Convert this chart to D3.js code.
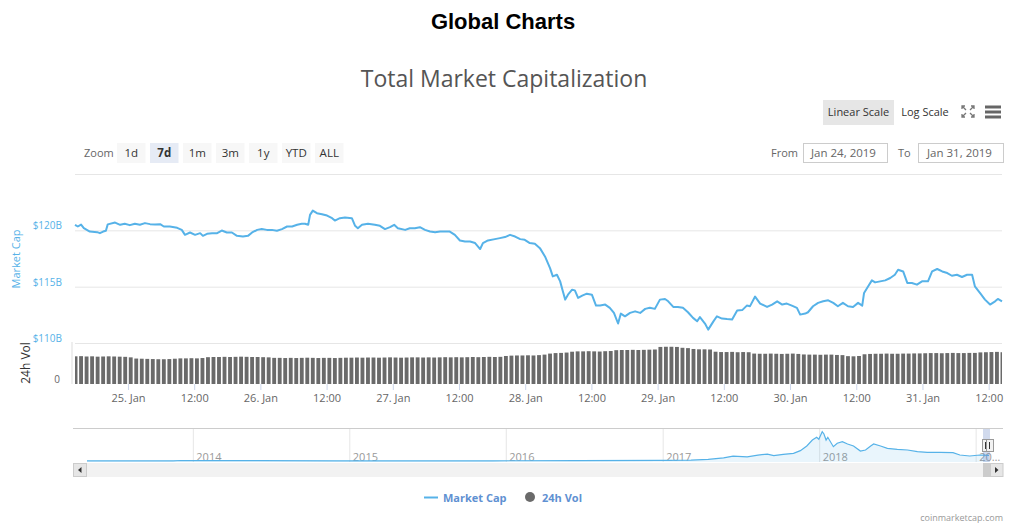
<!DOCTYPE html>
<html>
<head>
<meta charset="utf-8">
<script src="https://cdn.jsdelivr.net/npm/d3@7"></script>
<style>
  html, body { margin: 0; padding: 0; background: #fff; }
  svg { display: block; font-family: "Open Sans", sans-serif; }
</style>
</head>
<body>
<svg id="chart" width="1024" height="531"></svg>
<script>
// Market cap readings (time in Jan 2019 UTC, value in $B)
const capTimes = [
  "24 14:24","24 14:55","24 15:30","24 16:00","24 17:05","24 18:25","24 18:55","24 19:30","24 20:00","24 20:20","24 21:40","24 22:35","24 23:25",
  "25 00:20","25 01:15","25 02:10","25 03:05","25 04:00","25 04:55","25 05:50","25 06:30","25 07:35","25 08:55","25 09:45","25 10:20","25 11:15",
  "25 12:10","25 13:05","25 13:35","25 14:20","25 15:15","25 16:10","25 17:00","25 17:55","25 18:50","25 19:45","25 20:50","25 21:45","25 22:30","25 23:25",
  "26 00:15","26 01:10","26 02:05","26 03:00","26 03:55","26 04:50","26 05:45","26 06:40","26 07:30","26 08:05","26 08:40","26 09:00","26 09:30",
  "26 10:15","26 11:10","26 12:05","26 13:00","26 13:30","26 14:25","26 15:20","26 16:35","26 17:10","26 17:40","26 18:25","26 19:30","26 20:45",
  "26 21:40","26 22:35","26 23:30",
  "27 00:15","27 00:55","27 02:15","27 03:05","27 04:00","27 04:55","27 05:50","27 06:45","27 07:40","27 08:35","27 09:30","27 10:20","27 11:15",
  "27 12:10","27 13:05","27 14:00","27 14:55","27 15:50","27 16:20","27 17:15","27 18:30","27 19:25","27 20:20","27 21:15","27 22:10","27 23:05","27 23:55",
  "28 00:50","28 01:45","28 02:40","28 03:35","28 04:30","28 05:00","28 05:45","28 06:20","28 06:50","28 07:15","28 07:45","28 08:30","28 09:00",
  "28 09:35","28 10:20","28 11:10","28 12:05","28 12:50","28 13:35","28 14:30","28 15:20","28 16:05","28 16:50","28 17:20","28 18:05","28 19:00",
  "28 19:55","28 20:50","28 21:45","28 22:35","28 23:30",
  "29 00:25","29 01:20","29 01:55","29 02:50","29 03:40","29 04:35","29 05:30","29 06:25","29 07:10","29 07:40","29 08:35","29 09:10","29 10:05",
  "29 10:45","29 11:40","29 12:35","29 13:30","29 14:25","29 15:20","29 16:10","29 16:45","29 17:40","29 18:35","29 19:50","29 20:45","29 21:40",
  "29 22:35","29 23:25",
  "30 00:20","30 01:15","30 01:50","30 02:45","30 03:15","30 04:10","30 05:05","30 06:00","30 06:55","30 07:50","30 08:40","30 09:35","30 10:30",
  "30 11:25","30 12:20","30 13:05","30 13:25","30 14:10","30 14:50","30 15:25","30 16:20","30 17:15","30 18:10","30 19:00","30 19:35","30 20:30",
  "30 21:15","30 22:05","30 23:00","30 23:55",
  "31 01:00","31 01:45","31 02:40","31 03:35","31 04:30","31 05:20","31 06:15","31 07:10","31 08:05","31 09:00","31 09:30","31 10:25","31 11:20",
  "31 12:15","31 13:10","31 13:40","31 14:25"
];
const capValues = [
  120.49,120.34,120.51,120.19,119.89,119.84,119.75,119.89,119.96,120.53,120.69,120.49,120.58,
  120.46,120.58,120.49,120.64,120.55,120.51,120.55,120.34,120.34,120.22,120.04,119.60,119.81,
  119.60,119.75,119.51,119.69,119.75,119.75,119.98,119.81,119.81,119.51,119.45,119.51,119.81,120.04,
  120.11,120.04,120.04,119.96,120.11,120.34,120.34,120.49,120.58,120.58,120.49,121.37,121.75,
  121.52,121.43,121.31,121.08,120.87,121.08,121.13,121.08,120.40,120.19,120.49,120.58,120.49,
  120.40,120.11,120.28,
  120.49,120.19,120.04,120.19,120.19,120.28,120.04,119.89,119.84,119.89,119.89,119.89,119.60,
  119.10,119.01,119.01,118.87,118.34,118.87,119.10,119.22,119.31,119.40,119.60,119.45,119.22,119.16,
  118.87,118.81,118.42,117.68,116.65,115.91,116.06,115.47,114.58,113.85,114.29,114.73,114.67,
  114.00,114.20,114.38,114.29,113.32,113.32,113.41,113.12,112.67,111.73,112.61,112.37,112.67,
  112.81,112.67,113.03,113.12,113.03,
  113.85,113.91,113.70,113.20,113.20,113.12,112.73,112.23,111.93,112.30,111.73,111.19,111.90,
  112.37,112.17,112.12,112.08,112.88,112.92,113.32,113.27,114.12,113.50,113.20,113.41,113.70,
  113.41,113.50,
  113.32,113.12,112.52,112.61,112.73,113.26,113.56,113.70,113.79,113.56,113.26,113.56,113.26,
  113.20,113.56,113.32,114.44,115.03,115.56,115.38,115.47,115.56,115.77,116.06,116.50,116.35,
  115.33,115.33,115.18,115.47,
  115.47,116.35,116.57,116.35,116.21,115.97,116.06,115.86,116.06,116.06,115.03,114.44,113.85,
  113.41,113.70,113.91,113.70
];

// 24h volume, hourly bars from 24 Jan 14:30 UTC ($B)
const volStart = "2019-01-24 14:30";
const volValues = [
  16.2,16.3,16.1,16.2,16.0,16.1,16.2,16.1,16.0,15.9,15.6,
  14.9,14.8,14.7,14.6,14.5,14.5,14.6,14.8,
  15.0,15.0,15.1,15.0,15.2,
  15.7,15.8,15.8,15.9,15.8,15.9,16.0,15.9,15.8,15.8,15.7,15.6,
  15.3,15.3,15.2,15.3,15.2,15.3,15.4,15.3,15.2,15.3,15.3,15.2,15.3,15.4,
  15.4,15.5,15.4,15.5,15.5,15.4,15.5,15.6,15.5,15.4,15.5,15.6,15.6,15.5,15.6,15.5,15.6,15.7,15.6,15.7,15.6,15.7,15.8,15.7,15.8,15.9,15.8,15.9,
  16.4,16.6,16.7,16.7,16.8,16.7,16.9,17.2,
  17.8,18.1,18.2,18.4,
  18.9,19.1,19.1,19.2,19.1,19.0,19.2,19.3,
  19.8,19.9,19.9,20.0,19.9,20.0,20.1,20.2,
  21.7,21.8,21.8,21.7,
  21.2,21.0,
  20.5,20.3,20.3,20.2,
  18.9,18.7,18.7,18.8,18.6,18.7,18.6,
  17.8,17.7,17.7,17.8,17.7,17.6,17.7,17.8,17.6,
  17.3,17.2,17.2,17.1,17.2,17.2,17.0,16.9,
  16.3,16.2,16.4,
  17.4,17.6,17.7,17.7,17.8,17.7,17.7,17.8,17.8,17.9,17.9,
  18.0,18.1,18.1,18.0,18.1,18.2,18.1,18.1,18.2,18.2,
  18.5,18.6,18.7,18.8,18.6
];

// Navigator: whole history of market cap ($B)
const navDates = [
  "2013-04-28","2013-10-01","2013-11-15","2013-12-04","2014-01-10","2014-03-01","2014-06-01","2014-12-01",
  "2015-06-01","2015-12-01","2016-06-15","2016-12-31","2017-03-07","2017-04-16","2017-05-22","2017-06-13",
  "2017-07-16","2017-08-10","2017-09-01","2017-09-16","2017-10-08","2017-11-01","2017-11-17","2017-12-02",
  "2017-12-15","2017-12-25","2017-12-30","2018-01-07","2018-01-11","2018-01-16","2018-01-20","2018-02-02",
  "2018-02-11","2018-02-23","2018-03-07","2018-03-21","2018-04-06","2018-04-18","2018-04-30","2018-05-07",
  "2018-05-23","2018-06-08","2018-07-01","2018-07-25","2018-08-17","2018-09-09","2018-10-09","2018-11-08",
  "2018-11-24","2018-12-17","2019-01-10","2019-01-31"
];
const navValues = [
  1.5,2,6,14,11,9,8,5,
  4,6,11,17,25,45,90,140,
  118,168,196,150,190,218,292,425,
  594,671,614,830,764,594,671,405,
  501,546,481,425,283,311,425,481,
  425,359,331,311,263,246,246,235,
  170,141,170,160
];

const priceTicks = [110, 115, 120, 125];
const priceLabels = [110, 115, 120];
const zoomButtons = ["1d", "7d", "1m", "3m", "1y", "YTD", "ALL"];
const fromDate = "Jan 24, 2019";
const toDate = "Jan 31, 2019";

const blue = "#56b2e8";
const parseT = d3.utcParse("%Y-%m-%d %H:%M");
const capData = capTimes.map((t, i) => ({ date: parseT("2019-01-" + t), value: capValues[i] }));
const t0 = parseT(volStart);
const volData = volValues.map((v, i) => ({ date: d3.utcHour.offset(t0, i), value: v }));
const navData = navDates.map((d, i) => ({ date: d3.utcParse("%Y-%m-%d")(d), value: navValues[i] }));

const svg = d3.select("#chart");

// ---- titles
svg.append("text")
  .attr("x", 503).attr("y", 29).attr("text-anchor", "middle")
  .style("font-family", "'Liberation Sans', Arial, sans-serif")
  .style("font-weight", "bold").style("font-size", "22px").style("fill", "#000")
  .text("Global Charts");

svg.append("text")
  .attr("x", 504).attr("y", 87).attr("text-anchor", "middle")
  .style("font-size", "23px").style("fill", "#555")
  .text("Total Market Capitalization");

// ---- scale buttons (top right)
svg.append("rect").attr("x", 823).attr("y", 100).attr("width", 71).attr("height", 25).attr("fill", "#e6e6e6");
svg.append("text").attr("x", 858.5).attr("y", 116).attr("text-anchor", "middle")
  .style("font-size", "11px").style("fill", "#333").text("Linear Scale");
svg.append("text").attr("x", 925).attr("y", 116).attr("text-anchor", "middle")
  .style("font-size", "11px").style("fill", "#333").text("Log Scale");

// fullscreen icon
const fs = svg.append("g").attr("fill", "none").attr("stroke", "#777").attr("stroke-width", 1.3);
fs.append("path").attr("d", "M962,109 V106 H965 M962,106 L966,110");
fs.append("path").attr("d", "M971,106 H974 V109 M974,106 L970,110");
fs.append("path").attr("d", "M962,114 V117 H965 M962,117 L966,113");
fs.append("path").attr("d", "M971,117 H974 V114 M974,117 L970,113");

// menu icon
[107, 112, 117].forEach(yy => {
  svg.append("line").attr("x1", 985).attr("x2", 1001).attr("y1", yy).attr("y2", yy)
    .attr("stroke", "#666").attr("stroke-width", 3);
});

// ---- range selector
svg.append("text").attr("x", 84).attr("y", 156.5)
  .style("font-size", "11px").style("fill", "#666").text("Zoom");

zoomButtons.forEach((lab, i) => {
  const bx = 117 + i * 33;
  svg.append("rect").attr("x", bx).attr("y", 143).attr("width", 28.5).attr("height", 20)
    .attr("fill", lab === "7d" ? "#e6ebf5" : "#f7f7f7");
  svg.append("text").attr("x", bx + 14.25).attr("y", 156.5).attr("text-anchor", "middle")
    .style("font-size", "11.5px").style("fill", "#333")
    .style("font-weight", lab === "7d" ? "bold" : "normal").text(lab);
});

svg.append("text").attr("x", 771).attr("y", 156.5)
  .style("font-size", "11px").style("fill", "#666").text("From");
svg.append("rect").attr("x", 803.5).attr("y", 143.5).attr("width", 84).attr("height", 19)
  .attr("fill", "#fff").attr("stroke", "#ccc");
svg.append("text").attr("x", 811).attr("y", 156.5)
  .style("font-size", "11.5px").style("fill", "#666").text(fromDate);
svg.append("text").attr("x", 898).attr("y", 156.5)
  .style("font-size", "11px").style("fill", "#666").text("To");
svg.append("rect").attr("x", 918.5).attr("y", 143.5).attr("width", 85).attr("height", 19)
  .attr("fill", "#fff").attr("stroke", "#ccc");
svg.append("text").attr("x", 927).attr("y", 156.5)
  .style("font-size", "11.5px").style("fill", "#666").text(toDate);

// ---- scales
const x = d3.scaleUtc()
  .domain(d3.extent(capData, d => d.date))
  .range([75, 1002]);

const y = d3.scaleLinear().domain([110, 125]).range([343, 174]);
const yVol = d3.scaleLinear().domain([0, 24]).range([384, 343]);

// grid lines of the price panel
svg.append("g")
  .attr("transform", "translate(75,0)")
  .call(d3.axisRight(y).tickValues(priceTicks).tickSize(927).tickFormat(""))
  .call(g => g.select(".domain").remove())
  .call(g => g.selectAll("line").attr("stroke", "#e6e6e6"));

// price labels
svg.append("g")
  .attr("transform", "translate(62,0)")
  .call(d3.axisLeft(y).tickValues(priceLabels).tickSize(0).tickPadding(0).tickFormat(d => "$" + d + "B"))
  .call(g => g.select(".domain").remove())
  .call(g => g.selectAll("text")
    .attr("dy", "-1.5").attr("fill", blue)
    .style("font-size", "10px").style("font-family", "'Open Sans', sans-serif"));

svg.append("text")
  .attr("transform", "translate(19.5,259) rotate(-90)")
  .attr("text-anchor", "middle")
  .style("font-size", "11px").style("fill", blue).text("Market Cap");

// ---- volume panel
svg.append("line").attr("x1", 72).attr("x2", 72).attr("y1", 342).attr("y2", 384)
  .attr("stroke", "#ddd");

svg.append("defs").append("clipPath").attr("id", "volclip")
  .append("rect").attr("x", 75).attr("y", 340).attr("width", 927).attr("height", 50);

const barStep = x(d3.utcHour.offset(t0, 1)) - x(t0);
svg.append("g").attr("clip-path", "url(#volclip)")
  .selectAll("rect")
  .data(volData)
  .join("rect")
  .attr("x", d => x(d.date) - barStep * 0.35)
  .attr("width", barStep * 0.7)
  .attr("y", d => yVol(d.value))
  .attr("height", d => yVol(0) - yVol(d.value))
  .attr("fill", "#6a6a6a");

svg.append("text").attr("x", 60).attr("y", 383).attr("text-anchor", "end")
  .style("font-size", "10px").style("fill", "#666").text("0");

svg.append("text")
  .attr("transform", "translate(29.5,363) rotate(-90)")
  .attr("text-anchor", "middle")
  .style("font-size", "12px").style("fill", "#333").text("24h Vol");

// ---- price line
svg.append("path")
  .datum(capData)
  .attr("fill", "none")
  .attr("stroke", blue)
  .attr("stroke-width", 2)
  .attr("stroke-linejoin", "round")
  .attr("d", d3.line().x(d => x(d.date)).y(d => y(d.value)));

// ---- time axis
const fmtDay = d3.utcFormat("%-d. %b");
const fmtHour = d3.utcFormat("%H:%M");
svg.append("g")
  .attr("transform", "translate(0,384)")
  .call(d3.axisBottom(x)
    .tickValues(d3.utcHour.every(12).range(x.domain()[0], x.domain()[1]))
    .tickSize(6).tickPadding(4)
    .tickFormat(d => d.getUTCHours() === 0 ? fmtDay(d) : fmtHour(d)))
  .call(g => g.select(".domain").remove())
  .call(g => g.selectAll("line").attr("stroke", "#ccd6eb"))
  .call(g => g.selectAll("text").attr("fill", "#666")
    .style("font-size", "11px").style("font-family", "'Open Sans', sans-serif"));

// ---- navigator
const nx = d3.scaleUtc()
  .domain([navData[0].date, navData[navData.length - 1].date])
  .range([87, 989]);
const ny = d3.scaleLinear().domain([0, 934]).range([461, 428]);

svg.append("line").attr("x1", 73).attr("x2", 1003).attr("y1", 428.5).attr("y2", 428.5)
  .attr("stroke", "#ccc");

const years = d3.utcYear.range(d3.utcYear.ceil(nx.domain()[0]), nx.domain()[1]);
svg.append("g").selectAll("line").data(years).join("line")
  .attr("x1", d => nx(d)).attr("x2", d => nx(d))
  .attr("y1", 429).attr("y2", 462)
  .attr("stroke", "#e6e6e6");
svg.append("g").selectAll("text").data(years).join("text")
  .attr("x", d => nx(d) + 3).attr("y", 460.5)
  .style("font-size", "11px").style("fill", "#999")
  .text(d => d.getUTCFullYear() === 2019 ? "20…" : d.getUTCFullYear());

svg.append("path").datum(navData)
  .attr("fill", "rgba(86,178,232,0.13)")
  .attr("d", d3.area().x(d => nx(d.date)).y0(462).y1(d => ny(d.value)));
svg.append("path").datum(navData)
  .attr("fill", "none").attr("stroke", blue).attr("stroke-width", 1.2)
  .attr("d", d3.line().x(d => nx(d.date)).y(d => ny(d.value)));

// selected window
svg.append("rect").attr("x", 983).attr("y", 429).attr("width", 7).attr("height", 33)
  .attr("fill", "rgba(102,133,194,0.3)");
[982, 986].forEach(hx => {
  svg.append("rect").attr("x", hx + 0.5).attr("y", 439.5).attr("width", 7).attr("height", 12)
    .attr("fill", "#f2f2f2").attr("stroke", "#999");
  svg.append("line").attr("x1", hx + 3.5).attr("x2", hx + 3.5).attr("y1", 442).attr("y2", 449)
    .attr("stroke", "#333");
});

// scrollbar
svg.append("rect").attr("x", 73).attr("y", 463).attr("width", 930).attr("height", 14).attr("fill", "#f2f2f2");
svg.append("rect").attr("x", 73.5).attr("y", 463.5).attr("width", 13).attr("height", 13)
  .attr("fill", "#e6e6e6").attr("stroke", "#ccc");
svg.append("path").attr("d", "M81.5,467 L78,470 L81.5,473 Z").attr("fill", "#333");
svg.append("rect").attr("x", 983).attr("y", 463).attr("width", 7).attr("height", 14).attr("fill", "#ccc");
svg.append("rect").attr("x", 990.5).attr("y", 463.5).attr("width", 12.5).attr("height", 13)
  .attr("fill", "#e6e6e6").attr("stroke", "#ccc");
svg.append("path").attr("d", "M995,467 L998.5,470 L995,473 Z").attr("fill", "#333");

// ---- legend
svg.append("line").attr("x1", 424).attr("x2", 438).attr("y1", 497.5).attr("y2", 497.5)
  .attr("stroke", blue).attr("stroke-width", 2);
svg.append("text").attr("x", 443).attr("y", 501.5)
  .style("font-size", "11px").style("font-weight", "bold").style("fill", "#5f91d2").text("Market Cap");
svg.append("circle").attr("cx", 530).attr("cy", 497).attr("r", 5).attr("fill", "#6a6a6a");
svg.append("text").attr("x", 542).attr("y", 501.5)
  .style("font-size", "11px").style("font-weight", "bold").style("fill", "#5f91d2").text("24h Vol");

// credit
svg.append("text").attr("x", 1003).attr("y", 520.5).attr("text-anchor", "end")
  .style("font-size", "9px").style("fill", "#999").text("coinmarketcap.com");
</script>
</body>
</html>
